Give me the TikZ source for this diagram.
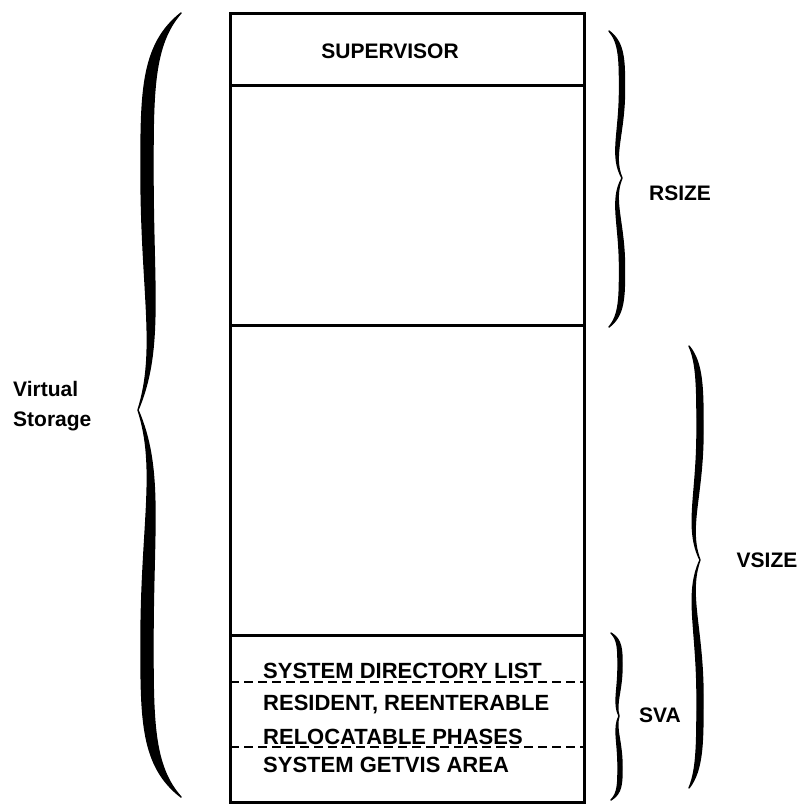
\documentclass[tikz,border=0pt]{standalone}
\usepackage{fontspec}
\setmainfont{Liberation Sans}
\newcommand{\brc}[8]{%
\pgfmathsetmacro\hA{#6-#5}\pgfmathsetmacro\hB{#7-#6}%
\pgfmathsetmacro\aL{#2-#8/2}\pgfmathsetmacro\aR{#2+#8/2}%
\pgfmathsetmacro\cL{#3-#8/4}\pgfmathsetmacro\cR{#3+#8/4}%
\pgfmathsetmacro\yA{#5+0.08*\hA}\pgfmathsetmacro\yB{#5+0.2*\hA}%
\pgfmathsetmacro\yC{#5+0.4*\hA}\pgfmathsetmacro\yD{#5+0.7*\hA}%
\pgfmathsetmacro\yE{#6-0.15*\hA}%
\pgfmathsetmacro\yF{#6+0.15*\hB}\pgfmathsetmacro\yG{#6+0.3*\hB}%
\pgfmathsetmacro\yH{#6+0.6*\hB}\pgfmathsetmacro\yI{#6+0.8*\hB}%
\pgfmathsetmacro\yJ{#6+0.92*\hB}%
\filldraw[bracefill] (#1,#5) .. controls (\aL,\yA) and (\aL,\yB) .. (\aL,\yC)
 .. controls (\aL,\yD) and (\cL,\yE) .. (#4,#6)
 .. controls (\cL,\yF) and (\aL,\yG) .. (\aL,\yH)
 .. controls (\aL,\yI) and (\aL,\yJ) .. (#1,#7)
 .. controls (\aR,\yJ) and (\aR,\yI) .. (\aR,\yH)
 .. controls (\aR,\yG) and (\cR,\yF) .. (#4,#6)
 .. controls (\cR,\yE) and (\aR,\yD) .. (\aR,\yC)
 .. controls (\aR,\yB) and (\aR,\yA) .. (#1,#5) -- cycle;}
\begin{document}
\begin{tikzpicture}[x=1pt,y=-1pt,
  lab/.style={font=\fontsize{21}{30}\selectfont\bfseries, inner sep=0pt, text height=15pt, text depth=0pt},
  boxlab/.style={font=\fontsize{22}{30}\selectfont\bfseries, inner sep=0pt, text height=15.7pt, text depth=0pt},
  boxline/.style={line width=3pt},
  sepline/.style={line width=3pt},
  dashline/.style={line width=1.8pt, dash pattern=on 9pt off 5pt},
  bracefill/.style={fill=black, draw=black, line width=1.4pt, line join=round, line cap=round}]
\useasboundingbox (0,0) rectangle (805,804);
\coordinate (tl) at (230,13);
\coordinate (br) at (584,802);
\draw[boxline] (tl) rectangle (br);
\coordinate (s1l) at (230,85);  \coordinate (s1r) at (584,85);
\coordinate (s2l) at (230,325); \coordinate (s2r) at (584,325);
\coordinate (s3l) at (230,635); \coordinate (s3r) at (584,635);
\coordinate (d1l) at (230,682); \coordinate (d1r) at (584,682);
\coordinate (d2l) at (230,747); \coordinate (d2r) at (584,747);
\draw[sepline] (s1l) -- (s1r);
\draw[sepline] (s2l) -- (s2r);
\draw[sepline] (s3l) -- (s3r);
\draw[dashline] (d1l) -- (d1r);
\draw[dashline] (d2l) -- (d2r);
\node[lab] (sup) at (390,51) {SUPERVISOR};
\node[boxlab, anchor=west] (sdl) at (263,671) {SYSTEM DIRECTORY LIST};
\node[boxlab, anchor=west] (res) at (263,703) {RESIDENT, REENTERABLE};
\node[boxlab, anchor=west] (rel) at (263,737) {RELOCATABLE PHASES};
\node[boxlab, anchor=west] (gvis) at (263,765) {SYSTEM GETVIS AREA};
\node[lab] (rsize) at (680,193) {RSIZE};
\node[lab] (vsize) at (767,560) {VSIZE};
\node[lab] (sva) at (660,715) {SVA};
\node[font=\fontsize{21}{30}\selectfont\bfseries, inner sep=0pt, align=left, anchor=west] (vs) at (13,406) {Virtual\\Storage};
\brc{181}{147}{160}{138}{13}{410}{797}{12}
\brc{609}{622}{611}{622}{31}{178}{327}{5}
\brc{689}{700}{686}{700}{346}{560}{788}{6}
\brc{611}{620}{614}{619}{633}{716}{800}{4}
\end{tikzpicture}
\end{document}
